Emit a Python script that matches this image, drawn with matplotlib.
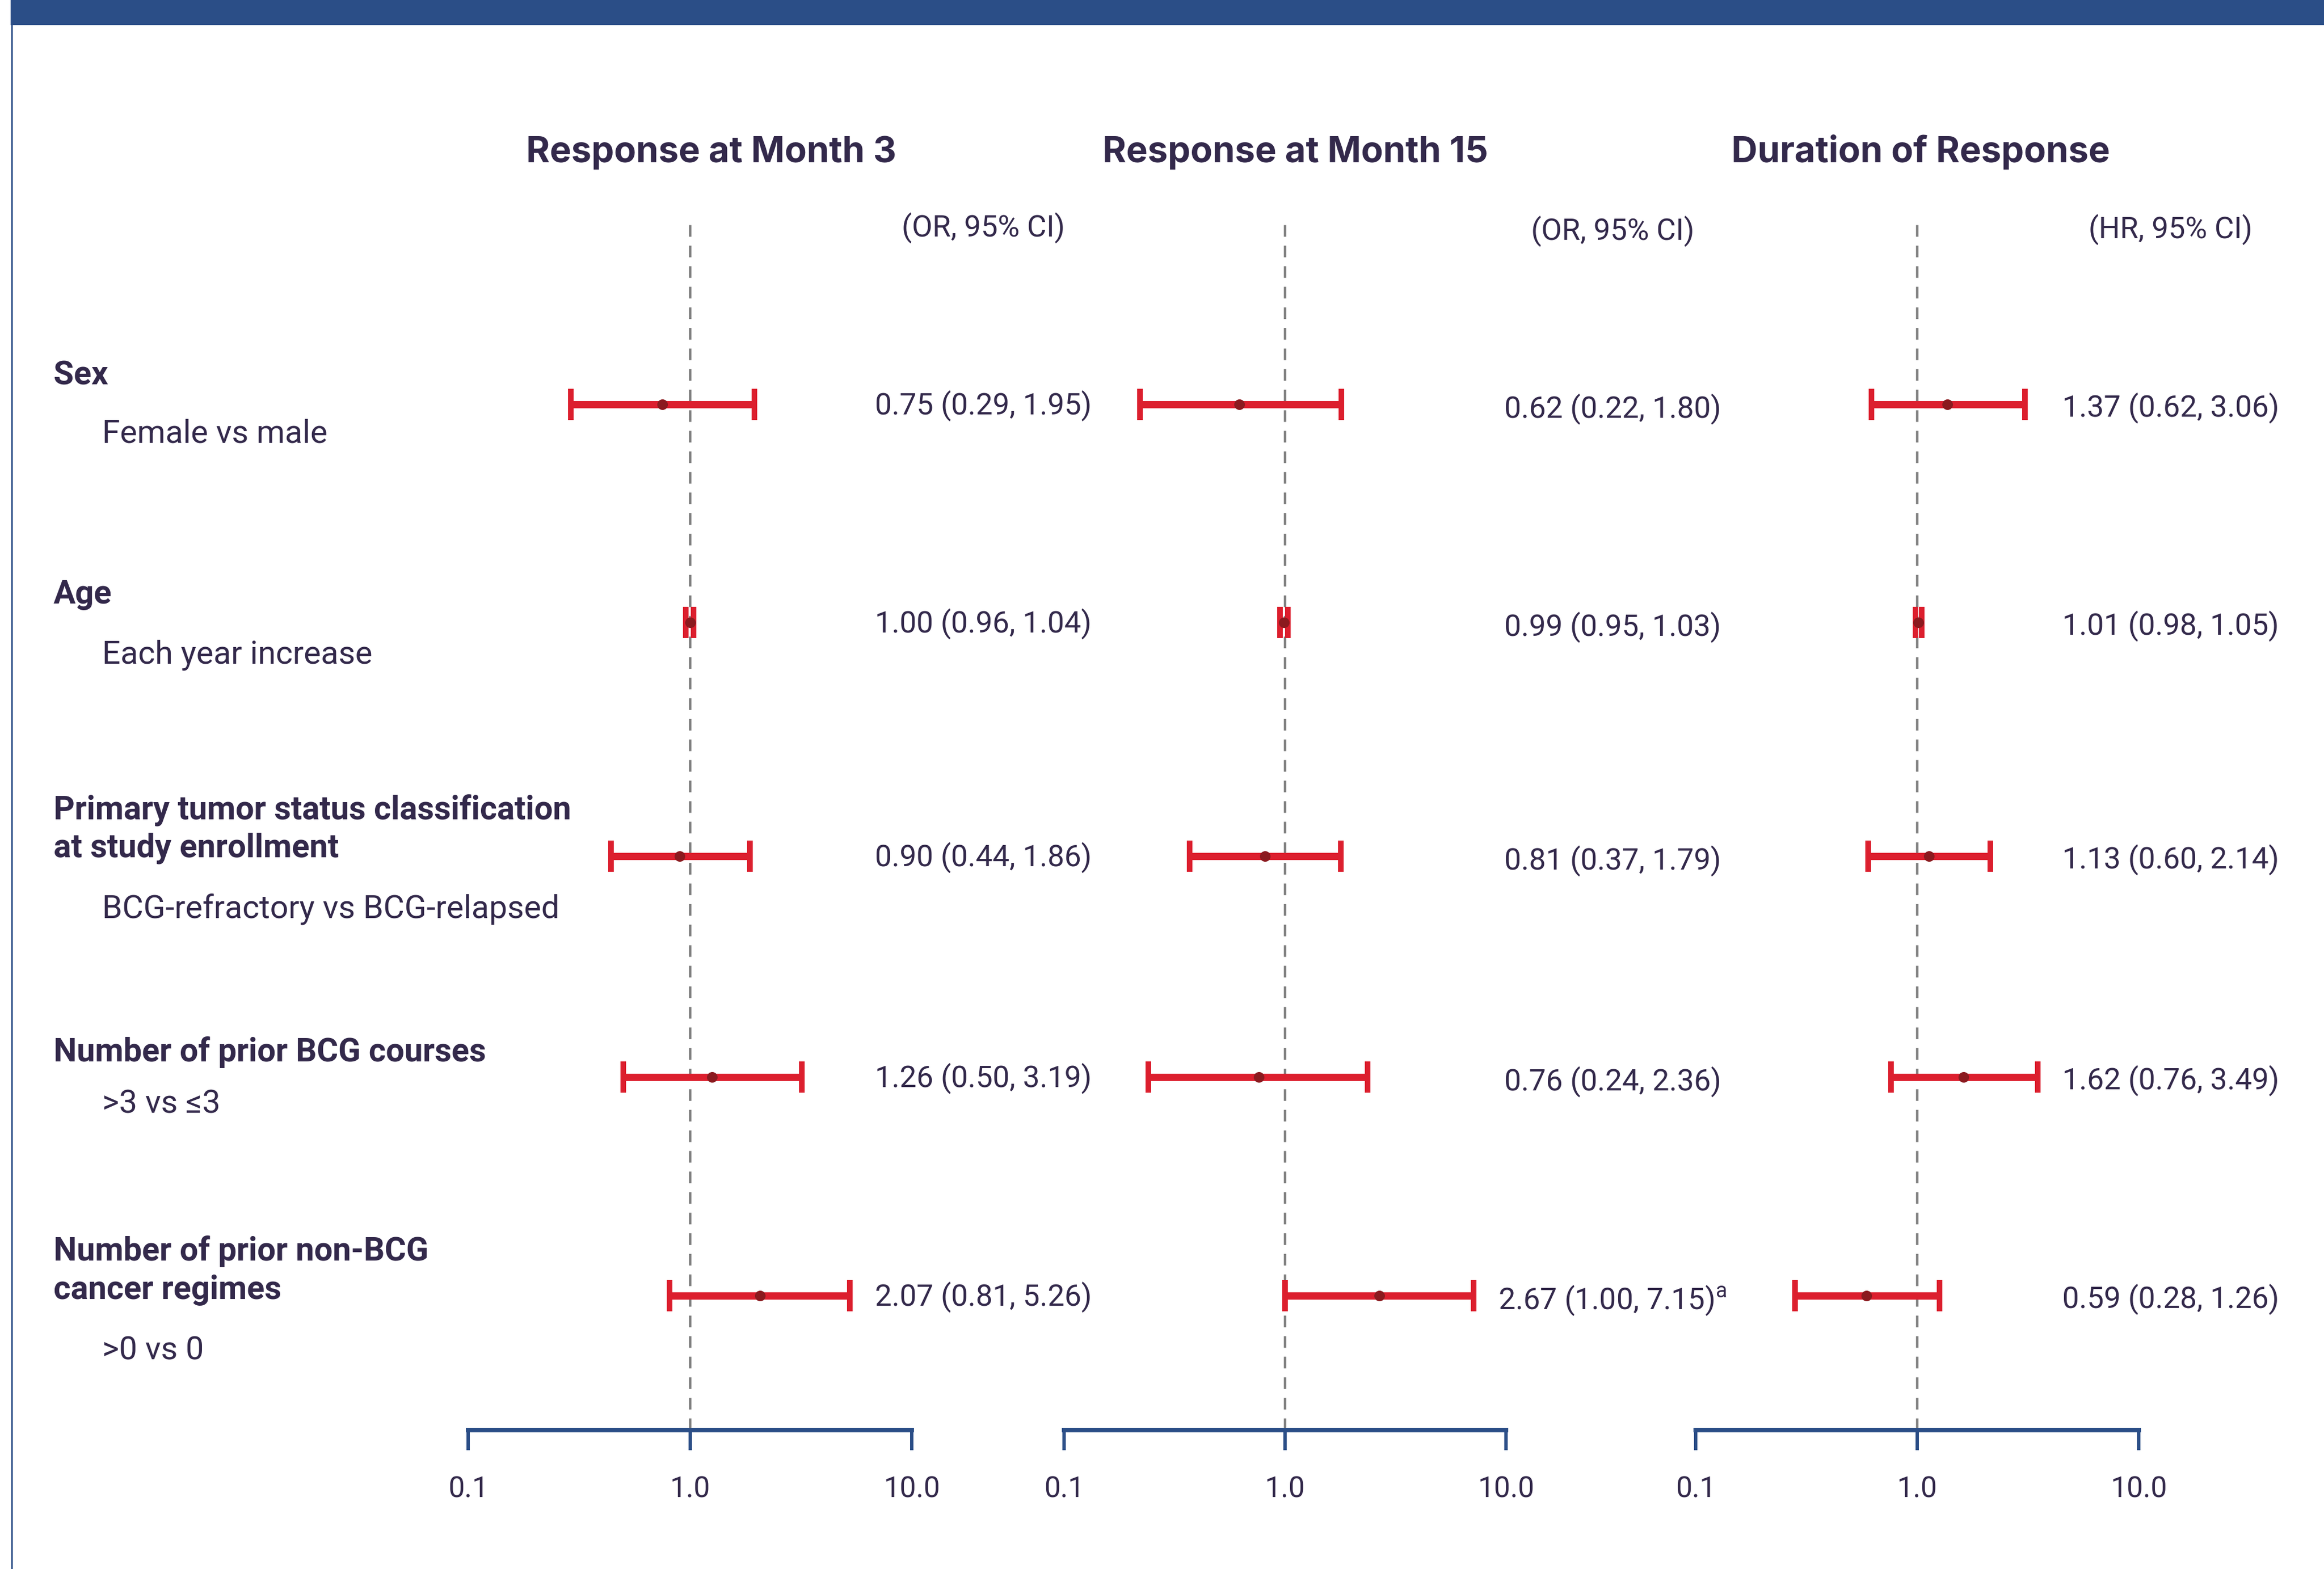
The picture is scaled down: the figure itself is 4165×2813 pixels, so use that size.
import numpy as np
import matplotlib as mpl
mpl.use('Agg')
import matplotlib.pyplot as plt
from matplotlib.patches import Rectangle
from matplotlib.lines import Line2D
from matplotlib.ticker import NullLocator

# subgroup rows
headings = [["Sex"],
            ["Age"],
            ["Primary tumor status classification", "at study enrollment"],
            ["Number of prior BCG courses"],
            ["Number of prior non-BCG", "cancer regimes"]]
comparisons = ["Female vs male", "Each year increase", "BCG-refractory vs BCG-relapsed",
               ">3 vs \u22643", ">0 vs 0"]

# response at month 3 (OR, 95% CI)
m3_est = [0.75, 1.00, 0.90, 1.26, 2.07]
m3_lo  = [0.29, 0.96, 0.44, 0.50, 0.81]
m3_hi  = [1.95, 1.04, 1.86, 3.19, 5.26]
m3_note = ["", "", "", "", ""]

# response at month 15 (OR, 95% CI)
m15_est = [0.62, 0.99, 0.81, 0.76, 2.67]
m15_lo  = [0.22, 0.95, 0.37, 0.24, 1.00]
m15_hi  = [1.80, 1.03, 1.79, 2.36, 7.15]
m15_note = ["", "", "", "", "a"]

# duration of response (HR, 95% CI)
dor_est = [1.37, 1.01, 1.13, 1.62, 0.59]
dor_lo  = [0.62, 0.98, 0.60, 0.76, 0.28]
dor_hi  = [3.06, 1.05, 2.14, 3.49, 1.26]
dor_note = ["", "", "", "", ""]

titles = ["Response at Month 3", "Response at Month 15", "Duration of Response"]
stat_labels = ["(OR, 95% CI)", "(OR, 95% CI)", "(HR, 95% CI)"]
tick_vals = [0.1, 1, 10]
tick_labels = ["0.1", "1.0", "10.0"]

# colours
blue = '#2b4e87'
red = '#dc1f2e'
dot = '#8b1a1f'
ink = '#33294b'
grey = '#808080'

plt.rcParams['font.family'] = ['Roboto', 'DejaVu Sans']
plt.rcParams['mathtext.fontset'] = 'custom'
plt.rcParams['mathtext.rm'] = 'Roboto'

# layout, in pixels from the top-left corner
W, H = 4165, 2813
def fx(x): return x / W
def fy(y): return 1 - y / H

row_y = [725, 1116, 1535, 1931, 2323]
head_y = [690, 1082, 1468, 1903, 2260]
sub_y = [793, 1189, 1645, 1995, 2438]
ax_top, ax_bot = 393, 2564
ax_x = [(839, 1634), (1907, 2699), (3039, 3833)]
title_x = [1275, 2322, 3442]
value_x = [1762, 2890, 3890]
value_dy = [18, 24, 22]
stat_y = [424, 430, 427]

fig = plt.figure(figsize=(W / 100, H / 100), dpi=100)

# header band and left rule
fig.add_artist(Rectangle((fx(19), fy(45)), 1 - fx(19), 45 / H,
                         transform=fig.transFigure, color=blue, lw=0))
fig.add_artist(Line2D([fx(21), fx(21)], [fy(45), 0], transform=fig.transFigure,
                      color=blue, lw=2.0))

# row labels
for i in range(len(headings)):
    for j, line in enumerate(headings[i]):
        fig.text(fx(96), fy(head_y[i] + 69 * j), line, fontsize=42.3,
                 fontweight='bold', color=ink, va='baseline')
    fig.text(fx(183), fy(sub_y[i]), comparisons[i], fontsize=41.8,
             color=ink, va='baseline')

panels = [(m3_est, m3_lo, m3_hi, m3_note),
          (m15_est, m15_lo, m15_hi, m15_note),
          (dor_est, dor_lo, dor_hi, dor_note)]

for k, (est, lo, hi, note) in enumerate(panels):
    est = np.array(est)
    lo = np.array(lo)
    hi = np.array(hi)
    x0, x1 = ax_x[k]
    ax = fig.add_axes([fx(x0), fy(ax_bot), (x1 - x0) / W, (ax_bot - ax_top) / H])
    ax.set_xscale('log')
    ax.set_xlim(0.1, 10)
    ax.set_ylim(ax_bot, ax_top)
    ax.patch.set_alpha(0)
    for s in ['top', 'left', 'right']:
        ax.spines[s].set_visible(False)
    ax.spines['bottom'].set_color(blue)
    ax.spines['bottom'].set_linewidth(5.8)
    ax.set_yticks([])
    ax.set_xticks(tick_vals)
    ax.set_xticklabels(tick_labels)
    ax.xaxis.set_minor_locator(NullLocator())
    ax.tick_params(axis='x', length=26, width=4.3, color=blue, pad=33,
                   labelsize=37.5, labelcolor=ink)

    ax.axvline(1, color=grey, lw=3.2, ls=(0, (4.7, 3.6)), zorder=1)
    ax.errorbar(est, row_y, xerr=[est - lo, hi - est], fmt='none', ecolor=red,
                elinewidth=9.4, capsize=20.5, capthick=7.2, zorder=2, clip_on=False)
    ax.plot(est, row_y, 'o', color=dot, ms=13.7, mew=0, zorder=3, clip_on=False)

    # estimate text column
    for i in range(len(est)):
        s = f"{est[i]:.2f} ({lo[i]:.2f}, {hi[i]:.2f})"
        if note[i]:
            s += r"$^{\mathrm{" + note[i] + "}}$"
        fig.text(fx(value_x[k]), fy(row_y[i] + value_dy[k]), s, fontsize=38.7,
                 color=ink, ha='center', va='baseline')

    fig.text(fx(title_x[k]), fy(291), titles[k], fontsize=46.5, fontweight='bold',
             family=['Inter', 'DejaVu Sans'], color=ink, ha='center', va='baseline')
    fig.text(fx(value_x[k]), fy(stat_y[k]), stat_labels[k], fontsize=38.5,
             color=ink, ha='center', va='baseline')

plt.savefig('out.png', dpi=100)
plt.close()
